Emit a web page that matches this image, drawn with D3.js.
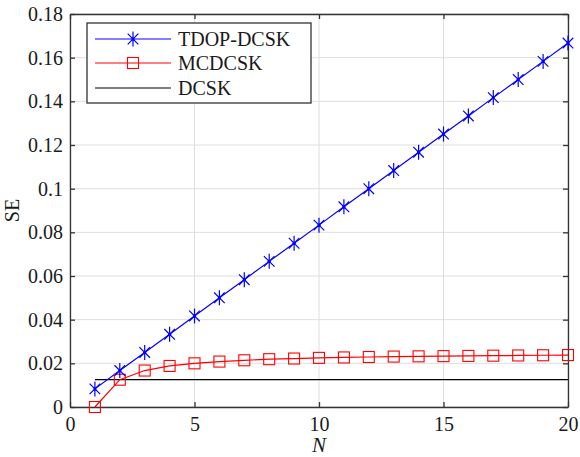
<!DOCTYPE html>
<html>
<head>
<meta charset="utf-8">
<script src="https://cdn.jsdelivr.net/npm/d3@7"></script>
<style>
  body { margin: 0; background: #fff; }
  svg text { font-family: 'Liberation Serif', 'Times New Roman', Times, serif !important; }
</style>
</head>
<body>
<div id="chart"></div>
<script>
var nValues = [1, 2, 3, 4, 5, 6, 7, 8, 9, 10, 11, 12, 13, 14, 15, 16, 17, 18, 19, 20];
var tdopDcsk = [0.0083, 0.0167, 0.025, 0.0333, 0.0417, 0.05, 0.0583, 0.0667, 0.075, 0.0833,
                0.0917, 0.1, 0.1083, 0.1167, 0.125, 0.1333, 0.1417, 0.15, 0.1583, 0.1667];
var mcDcsk = [0, 0.0125, 0.0167, 0.0188, 0.02, 0.0208, 0.0214, 0.0219, 0.0222, 0.0225,
              0.0227, 0.0229, 0.0231, 0.0232, 0.0233, 0.0234, 0.0235, 0.0236, 0.0237, 0.0238];
var dcsk = [0.0125, 0.0125, 0.0125, 0.0125, 0.0125, 0.0125, 0.0125, 0.0125, 0.0125, 0.0125,
            0.0125, 0.0125, 0.0125, 0.0125, 0.0125, 0.0125, 0.0125, 0.0125, 0.0125, 0.0125];
var xTicks = [0, 5, 10, 15, 20];
var yTicks = [0, 0.02, 0.04, 0.06, 0.08, 0.1, 0.12, 0.14, 0.16, 0.18];
var seriesNames = ['TDOP-DCSK', 'MCDCSK', 'DCSK'];

var width = 580, height = 457;
var margin = {top: 14, right: 12, bottom: 50, left: 70};
var plotW = width - margin.left - margin.right;
var plotH = height - margin.top - margin.bottom;
var serif = "'Liberation Serif', 'Times New Roman', Times, serif";

var svg = d3.select('#chart').append('svg')
  .attr('width', width).attr('height', height);
var g = svg.append('g')
  .attr('transform', 'translate(' + margin.left + ',' + margin.top + ')');

var x = d3.scaleLinear().domain([0, 20]).range([0, plotW]);
var y = d3.scaleLinear().domain([0, 0.18]).range([plotH, 0]);

// grid
g.selectAll('.vgrid').data(xTicks).enter().append('line')
  .attr('x1', function(d){ return x(d); }).attr('x2', function(d){ return x(d); })
  .attr('y1', 0).attr('y2', plotH)
  .attr('stroke', '#dedede').attr('stroke-width', 1);
g.selectAll('.hgrid').data(yTicks).enter().append('line')
  .attr('x1', 0).attr('x2', plotW)
  .attr('y1', function(d){ return y(d); }).attr('y2', function(d){ return y(d); })
  .attr('stroke', '#dedede').attr('stroke-width', 1);

// axes with inward ticks
var fmt = function(d){ return String(+d.toFixed(2)); };
var axisB = g.append('g').attr('transform', 'translate(0,' + plotH + ')')
  .call(d3.axisBottom(x).tickValues(xTicks).tickSizeInner(-5).tickSizeOuter(0).tickPadding(10).tickFormat(fmt));
var axisL = g.append('g')
  .call(d3.axisLeft(y).tickValues(yTicks).tickSizeInner(-5).tickSizeOuter(0).tickPadding(7).tickFormat(fmt));
var axisT = g.append('g')
  .call(d3.axisTop(x).tickValues(xTicks).tickSizeInner(-5).tickSizeOuter(0).tickFormat(''));
var axisR = g.append('g').attr('transform', 'translate(' + plotW + ',0)')
  .call(d3.axisRight(y).tickValues(yTicks).tickSizeInner(-5).tickSizeOuter(0).tickFormat(''));
[axisB, axisL, axisT, axisR].forEach(function(a){
  a.attr('font-family', serif).attr('font-size', 20);
  a.selectAll('path, line').attr('stroke', '#333').attr('stroke-width', 1.3);
  a.selectAll('text').attr('fill', '#1a1a1a');
});

// axis labels
svg.append('text')
  .attr('x', margin.left + x(10)).attr('y', 452)
  .attr('text-anchor', 'middle').attr('font-family', serif).attr('font-size', 21)
  .attr('font-style', 'italic').attr('fill', '#1a1a1a').text('N');
svg.append('text')
  .attr('transform', 'translate(19,' + (margin.top + plotH / 2) + ') rotate(-90)')
  .attr('text-anchor', 'middle').attr('font-family', serif).attr('font-size', 20)
  .attr('fill', '#1a1a1a').text('SE');

var line = d3.line()
  .x(function(d){ return x(d[0]); })
  .y(function(d){ return y(d[1]); });

function pairs(vals){ return nValues.map(function(n, i){ return [n, vals[i]]; }); }

// DCSK
g.append('path').datum(pairs(dcsk)).attr('d', line)
  .attr('fill', 'none').attr('stroke', '#000').attr('stroke-width', 1.2);
// MCDCSK
g.append('path').datum(pairs(mcDcsk)).attr('d', line)
  .attr('fill', 'none').attr('stroke', '#ff0000').attr('stroke-width', 1.2);
// TDOP-DCSK
g.append('path').datum(pairs(tdopDcsk)).attr('d', line)
  .attr('fill', 'none').attr('stroke', '#0000ff').attr('stroke-width', 1.2);

function drawSquare(sel, cx, cy){
  sel.append('rect')
    .attr('x', cx - 5.5).attr('y', cy - 5.5).attr('width', 11).attr('height', 11)
    .attr('fill', 'none').attr('stroke', '#ff0000').attr('stroke-width', 1.1);
}
function drawStar(sel, cx, cy){
  var r = 7.5, d = r * 0.707;
  var p = 'M' + (cx) + ',' + (cy - r) + 'L' + cx + ',' + (cy + r) +
          'M' + (cx - d) + ',' + (cy - d) + 'L' + (cx + d) + ',' + (cy + d) +
          'M' + (cx - d) + ',' + (cy + d) + 'L' + (cx + d) + ',' + (cy - d);
  sel.append('path').attr('d', p).attr('stroke', '#0000ff').attr('stroke-width', 1.2).attr('fill', 'none');
  sel.append('circle').attr('cx', cx).attr('cy', cy).attr('r', 1.6).attr('fill', '#0000ff');
}

var mk = g.append('g');
pairs(mcDcsk).forEach(function(p){ drawSquare(mk, x(p[0]), y(p[1])); });
pairs(tdopDcsk).forEach(function(p){ drawStar(mk, x(p[0]), y(p[1])); });

// legend
var lg = svg.append('g').attr('transform', 'translate(87,23)');
lg.append('rect').attr('width', 224).attr('height', 80)
  .attr('fill', '#fff').attr('stroke', '#333').attr('stroke-width', 1.3);
var rowsY = [16, 40, 65];
var colors = ['#0000ff', '#ff0000', '#000'];
seriesNames.forEach(function(name, i){
  lg.append('line').attr('x1', 8).attr('x2', 84)
    .attr('y1', rowsY[i]).attr('y2', rowsY[i])
    .attr('stroke', colors[i]).attr('stroke-width', 1.2);
  if (i === 0) drawStar(lg, 46, rowsY[i]);
  if (i === 1) drawSquare(lg, 46, rowsY[i]);
  lg.append('text').attr('x', 91).attr('y', rowsY[i] + 7)
    .attr('font-family', serif).attr('font-size', 20).attr('fill', '#1a1a1a').text(name);
});
</script>
</body>
</html>
